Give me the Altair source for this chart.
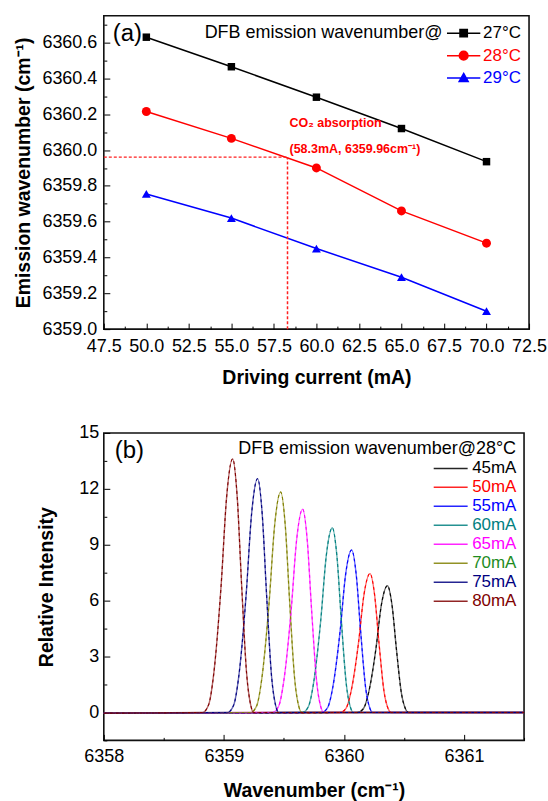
import altair as alt
import pandas as pd

FONT = "Liberation Sans"

# ---------------- Panel (a): emission wavenumber vs driving current ----------------
current_ma = [50, 55, 60, 65, 70]
wn_27c = [6360.630, 6360.465, 6360.295, 6360.120, 6359.935]
wn_28c = [6360.215, 6360.065, 6359.900, 6359.660, 6359.480]
wn_29c = [6359.755, 6359.620, 6359.450, 6359.290, 6359.100]
temp_labels = ["27°C", "28°C", "29°C"]
temp_colors = ["#000000", "#FF0000", "#0000FF"]
temp_shapes = ["square", "circle", "triangle-up"]
temp_marker_sizes = [56, 80, 80]
temp_legend_paths = [
    "M-2,0H2M-0.44,-0.44H0.44V0.44H-0.44Z",
    "M-2,0H2M0.52,0A0.52,0.52,0,1,1,-0.52,0A0.52,0.52,0,1,1,0.52,0Z",
    "M-2,0H2M0,-0.56L0.54,0.4H-0.54Z",
]
co2_current = 58.3
co2_wn = 6359.96
co2_text = ["CO₂ absorption", "(58.3mA, 6359.96cm⁻¹)"]
co2_text_y = [6360.152, 6360.005]

a_x_domain = [47.5, 72.5]
a_y_domain = [6359.0, 6360.75]
a_x_labels = [47.5, 50.0, 52.5, 55.0, 57.5, 60.0, 62.5, 65.0, 67.5, 70.0, 72.5]
a_y_labels = [6359.0, 6359.2, 6359.4, 6359.6, 6359.8, 6360.0, 6360.2, 6360.4, 6360.6]
a_x_ticks = [47.5 + 1.25 * i for i in range(21)]
a_y_ticks = [round(6359.0 + 0.1 * i, 1) for i in range(18)]

# ---------------- Panel (b): spectra at 28°C ----------------
b_series = ["45mA", "50mA", "55mA", "60mA", "65mA", "70mA", "75mA", "80mA"]
b_line_colors = ["#000000", "#FF0000", "#0000FF", "#008080", "#FF00FF", "#808000", "#000080", "#800000"]
b_label_colors = ["#000000", "#FF0000", "#0000FF", "#008080", "#FF00FF", "#1E8C1E", "#000080", "#800000"]

wn_45ma = [6358.0, 6360.112, 6360.162, 6360.204, 6360.266, 6360.312, 6360.362, 6360.400, 6360.437, 6360.479, 6360.512, 6360.537, 6361.5]
int_45ma = [-0.04, 0.0, 0.20, 1.02, 3.40, 5.78, 6.80, 5.78, 3.40, 1.02, 0.20, 0.0, 0.0]
wn_50ma = [6358.0, 6359.967, 6360.017, 6360.059, 6360.121, 6360.167, 6360.217, 6360.255, 6360.292, 6360.334, 6360.367, 6360.392, 6361.5]
int_50ma = [-0.04, 0.0, 0.22, 1.12, 3.72, 6.33, 7.45, 6.33, 3.72, 1.12, 0.22, 0.0, 0.0]
wn_55ma = [6358.0, 6359.814, 6359.864, 6359.906, 6359.968, 6360.014, 6360.064, 6360.102, 6360.139, 6360.181, 6360.214, 6360.239, 6361.5]
int_55ma = [-0.04, 0.0, 0.26, 1.31, 4.36, 7.41, 8.72, 7.41, 4.36, 1.31, 0.26, 0.0, 0.0]
wn_60ma = [6358.0, 6359.653, 6359.703, 6359.745, 6359.807, 6359.853, 6359.903, 6359.941, 6359.978, 6360.020, 6360.053, 6360.078, 6361.5]
int_60ma = [-0.04, 0.0, 0.30, 1.49, 4.96, 8.42, 9.91, 8.42, 4.96, 1.49, 0.30, 0.0, 0.0]
wn_65ma = [6358.0, 6359.406, 6359.456, 6359.498, 6359.560, 6359.606, 6359.656, 6359.694, 6359.731, 6359.773, 6359.806, 6359.831, 6361.5]
int_65ma = [-0.04, 0.0, 0.33, 1.64, 5.46, 9.27, 10.91, 9.27, 5.46, 1.64, 0.33, 0.0, 0.0]
wn_70ma = [6358.0, 6359.223, 6359.273, 6359.315, 6359.377, 6359.423, 6359.473, 6359.511, 6359.548, 6359.590, 6359.623, 6359.648, 6361.5]
int_70ma = [-0.04, 0.0, 0.35, 1.77, 5.92, 10.06, 11.83, 10.06, 5.92, 1.77, 0.35, 0.0, 0.0]
wn_75ma = [6358.0, 6359.031, 6359.081, 6359.123, 6359.185, 6359.231, 6359.281, 6359.319, 6359.356, 6359.398, 6359.431, 6359.456, 6361.5]
int_75ma = [-0.04, 0.0, 0.38, 1.88, 6.28, 10.67, 12.55, 10.67, 6.28, 1.88, 0.38, 0.0, 0.0]
wn_80ma = [6358.0, 6358.823, 6358.873, 6358.915, 6358.977, 6359.023, 6359.073, 6359.111, 6359.148, 6359.190, 6359.223, 6359.248, 6361.5]
int_80ma = [-0.04, 0.0, 0.41, 2.04, 6.81, 11.57, 13.61, 11.57, 6.81, 2.04, 0.41, 0.0, 0.0]

b_x_domain = [6358.0, 6361.5]
b_y_domain = [-1.5, 15.0]
b_x_labels = [6358, 6359, 6360, 6361]
b_y_labels = [0, 3, 6, 9, 12, 15]
b_x_ticks = [6358.0 + 0.5 * i for i in range(8)]
b_y_ticks = [-1.5 + 1.5 * i for i in range(12)]

# ---------------- sizes ----------------
W_A, H_A = 426, 314
W_B, H_B = 421, 308


def expr_map(keys, vals, default):
    s = repr(default)
    for k, v in reversed(list(zip(keys, vals))):
        s = f"datum.value === {k!r} ? {v!r} : ({s})"
    return s


# ---------------- tables ----------------
df_a = pd.DataFrame({
    "current": current_ma * 3,
    "wn": wn_27c + wn_28c + wn_29c,
    "temp": [temp_labels[0]] * 5 + [temp_labels[1]] * 5 + [temp_labels[2]] * 5,
})
df_hline = pd.DataFrame({"x": [a_x_domain[0]], "x2": [co2_current], "y": [co2_wn]})
df_vline = pd.DataFrame({"x": [co2_current], "y": [a_y_domain[0]], "y2": [co2_wn]})
df_co2 = pd.DataFrame({"x": [co2_current] * 2, "y": co2_text_y, "t": co2_text})
df_a_tag = pd.DataFrame({"x": [a_x_domain[0]], "y": [a_y_domain[1]], "t": ["(a)"]})

b_wn = [wn_45ma, wn_50ma, wn_55ma, wn_60ma, wn_65ma, wn_70ma, wn_75ma, wn_80ma]
b_int = [int_45ma, int_50ma, int_55ma, int_60ma, int_65ma, int_70ma, int_75ma, int_80ma]
rows = []
for name, xs, ys in zip(b_series, b_wn, b_int):
    for xv, yv in zip(xs, ys):
        rows.append({"wn": xv, "inten": yv, "series": name})
df_b = pd.DataFrame(rows)
df_b_tag = pd.DataFrame({"x": [b_x_domain[0]], "y": [b_y_domain[1]], "t": ["(b)"]})

# ---------------- scales ----------------
xa = alt.Scale(domain=a_x_domain, nice=False, zero=False)
ya = alt.Scale(domain=a_y_domain, nice=False, zero=False)
xb = alt.Scale(domain=b_x_domain, nice=False, zero=False)
yb = alt.Scale(domain=b_y_domain, nice=False, zero=False)
color_a = alt.Scale(domain=temp_labels, range=temp_colors)
color_b = alt.Scale(domain=b_series, range=b_line_colors)


def main_axis(orient, values, fmt, title, label_pad, title_pad):
    return alt.Axis(orient=orient, values=values, format=fmt, labelFontSize=18,
                    labelPadding=label_pad, ticks=False, domain=False, grid=False,
                    title=title, titleFontSize=19.5, titleFontWeight="bold",
                    titlePadding=title_pad, labelFlush=False, labelOverlap=False,
                    labelColor="black", titleColor="black")


def tick_axis(orient, offset, values, test):
    return alt.Axis(orient=orient, offset=offset, values=values, labels=False, domain=False,
                    grid=False, title=None, ticks=True, tickColor="black", tickWidth=1,
                    tickSize={"condition": {"test": test, "value": 6}, "value": 3})


# ---------------- panel (a) ----------------
legend_a = alt.Legend(
    title="DFB emission wavenumber@", titleOrient="left", titleAnchor="start",
    titleFontSize=18, titleFontWeight="normal", titleColor="black", titlePadding=11,
    titleLimit=400, orient="top-right", offset=8, padding=0,
    labelFontSize=17, labelOffset=10, rowPadding=4.5,
    labelColor={"expr": expr_map(temp_labels, temp_colors, "black")},
    symbolType={"expr": expr_map(temp_labels, temp_legend_paths, "circle")},
    symbolStrokeColor={"expr": expr_map(temp_labels, temp_colors, "black")},
    symbolFillColor={"expr": expr_map(temp_labels, temp_colors, "black")},
    symbolSize=279, symbolStrokeWidth=1.5, symbolOpacity=1,
)

lines_a = alt.Chart(df_a).mark_line(strokeWidth=1.5).encode(
    x=alt.X("current:Q", scale=xa,
            axis=main_axis("bottom", a_x_labels, ".1f", "Driving current (mA)", 8, 13)),
    y=alt.Y("wn:Q", scale=ya,
            axis=main_axis("left", a_y_labels, ".1f", "Emission wavenumber (cm⁻¹)", 7, 8)),
    color=alt.Color("temp:N", scale=color_a, legend=legend_a),
)

point_layers = []
for lab, col, shp, sz in zip(temp_labels, temp_colors, temp_shapes, temp_marker_sizes):
    point_layers.append(
        alt.Chart(df_a).transform_filter(alt.datum.temp == lab).mark_point(
            filled=True, opacity=1, shape=shp, size=sz, color=col
        ).encode(
            x=alt.X("current:Q", scale=xa, axis=None),
            y=alt.Y("wn:Q", scale=ya, axis=None),
        )
    )

hline = alt.Chart(df_hline).mark_rule(strokeDash=[3, 2], strokeWidth=1.3).encode(
    x=alt.X("x:Q", scale=xa, axis=None), x2="x2:Q",
    y=alt.Y("y:Q", scale=ya, axis=None),
    color=alt.value("#FF2020"),
)
vline = alt.Chart(df_vline).mark_rule(strokeDash=[3, 2], strokeWidth=1.5).encode(
    x=alt.X("x:Q", scale=xa, axis=None),
    y=alt.Y("y:Q", scale=ya, axis=None), y2="y2:Q",
    color=alt.value("#FF2020"),
)
co2_label = alt.Chart(df_co2).mark_text(align="left", baseline="middle", dx=2, fontSize=12.5,
                                        fontWeight="bold", color="#FF0000", font=FONT).encode(
    x=alt.X("x:Q", scale=xa, axis=None),
    y=alt.Y("y:Q", scale=ya, axis=None),
    text="t:N",
)
tag_a = alt.Chart(df_a_tag).mark_text(align="left", baseline="middle", dx=9, dy=18, fontSize=24,
                                      color="black", font=FONT).encode(
    x=alt.X("x:Q", scale=xa, axis=tick_axis("top", -H_A, a_x_ticks, "(datum.value - 47.5) % 2.5 == 0")),
    y=alt.Y("y:Q", scale=ya, axis=tick_axis("right", -W_A, a_y_ticks, "round(datum.value * 10) % 2 == 0")),
    text="t:N",
)

panel_a = alt.layer(lines_a, *point_layers, hline, vline, co2_label, tag_a).resolve_axis(
    x="independent", y="independent").properties(width=W_A, height=H_A)

# ---------------- panel (b) ----------------
legend_b = alt.Legend(
    title="DFB emission wavenumber@28°C", titleOrient="top", titleAnchor="end",
    titleFontSize=18, titleFontWeight="normal", titleColor="black", titlePadding=1,
    titleLimit=400, orient="top-right", offset=7, padding=0,
    labelFontSize=17, labelOffset=12, rowPadding=1,
    labelColor={"expr": expr_map(b_series, b_label_colors, "black")},
    symbolType="M-2,0H2", symbolSize=289, symbolStrokeWidth=1.5, symbolOpacity=0.85,
)

lines_b = alt.Chart(df_b).mark_line(strokeWidth=1.4, interpolate="monotone", opacity=0.6).encode(
    x=alt.X("wn:Q", scale=xb,
            axis=main_axis("bottom", b_x_labels, "d", "Wavenumber (cm⁻¹)", 7, 16)),
    y=alt.Y("inten:Q", scale=yb,
            axis=main_axis("left", b_y_labels, "d", "Relative Intensity", 5, 22)),
    color=alt.Color("series:N", scale=color_b, legend=legend_b),
    order=alt.Order("wn:Q"),
)
dash_b = alt.Chart(df_b).mark_line(strokeWidth=1.1, interpolate="monotone", strokeDash=[3, 3]).encode(
    x=alt.X("wn:Q", scale=xb, axis=None),
    y=alt.Y("inten:Q", scale=yb, axis=None),
    color=alt.Color("series:N", scale=color_b, legend=None),
    order=alt.Order("wn:Q"),
)
tag_b = alt.Chart(df_b_tag).mark_text(align="left", baseline="middle", dx=11, dy=18, fontSize=24,
                                      color="black", font=FONT).encode(
    x=alt.X("x:Q", scale=xb, axis=tick_axis("top", -H_B, b_x_ticks, "datum.value % 1 == 0")),
    y=alt.Y("y:Q", scale=yb, axis=tick_axis("right", -W_B, b_y_ticks, "datum.value % 3 == 0")),
    text="t:N",
)

panel_b = alt.layer(lines_b, dash_b, tag_b).resolve_axis(
    x="independent", y="independent").properties(width=W_B, height=H_B)

chart = alt.vconcat(panel_a, panel_b, spacing=104, bounds="flush").resolve_scale(
    color="independent"
).properties(
    padding={"left": 13, "top": 14, "right": 0, "bottom": 0},
    background="white",
).configure(font=FONT).configure_view(
    stroke="#111111", strokeWidth=1.6
).configure_axis(
    labelFont=FONT, titleFont=FONT
).configure_legend(
    labelFont=FONT, titleFont=FONT
)

chart.save("out.html", embed_options={"renderer": "svg", "actions": False})
